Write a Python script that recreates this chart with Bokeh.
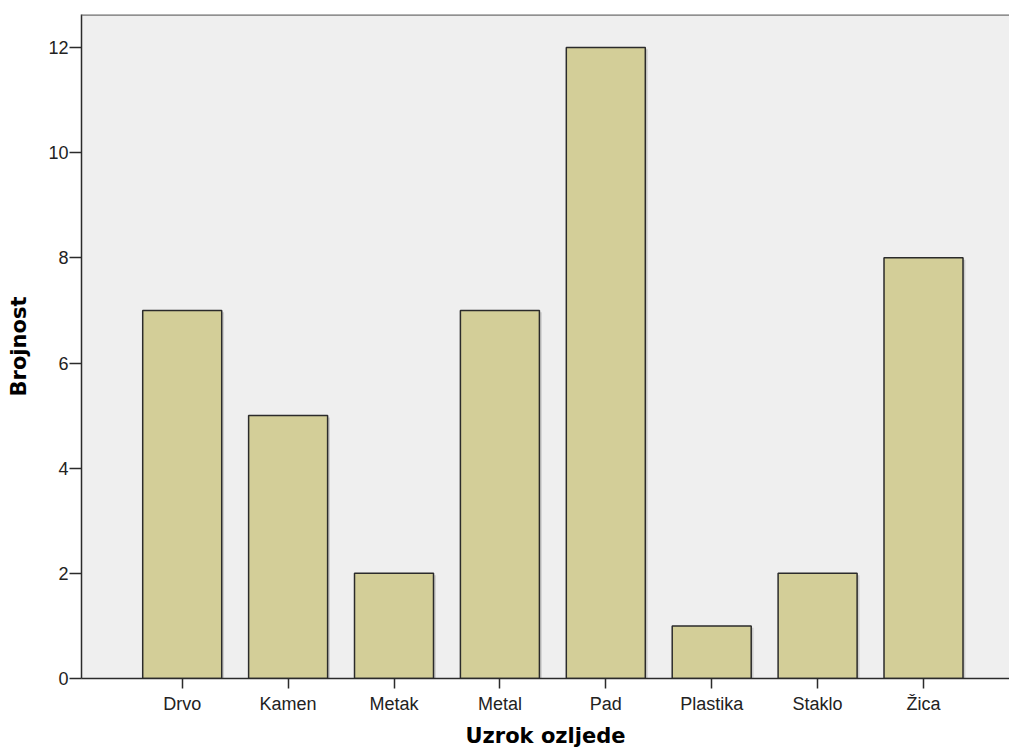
from bokeh.plotting import figure
from bokeh.models import Range1d, FixedTicker, Span, ColumnDataSource
from bokeh.embed import file_html
from bokeh.resources import INLINE

categories = ["Drvo", "Kamen", "Metak", "Metal", "Pad", "Plastika", "Staklo", "Žica"]
counts = [7, 5, 2, 7, 12, 1, 2, 8]
y_ticks = [0, 2, 4, 6, 8, 10, 12]

positions = list(range(1, len(categories) + 1))
src = ColumnDataSource(dict(x=positions, top=counts,
                            xs=[p_ + 0.022 for p_ in positions],
                            tops=[c - 0.035 for c in counts]))

y_end = 12.628
p = figure(width=1009, height=751, output_backend="svg", toolbar_location=None,
           x_range=Range1d(0.049, 8.812), y_range=Range1d(0, y_end),
           min_border_left=81, min_border_top=14, min_border_right=0, min_border_bottom=73)

p.background_fill_color = "#EFEFEF"
p.border_fill_color = "white"
p.outline_line_color = None
p.grid.visible = False

# subtle shadow
p.vbar(x="xs", top="tops", width=0.746, bottom=0, source=src,
       fill_color="#C4C4C4", line_color=None, fill_alpha=0.8)
p.vbar(x="x", top="top", width=0.746, bottom=0, source=src,
       fill_color="#D3CE98", line_color="#2B2B2B", line_width=1.5)

p.add_layout(Span(location=y_end, dimension="width", line_color="#707070", line_width=2.5))

p.xaxis.ticker = FixedTicker(ticks=positions)
p.xaxis.major_label_overrides = {pos: c for pos, c in zip(positions, categories)}
p.yaxis.ticker = FixedTicker(ticks=y_ticks)

for ax in (p.xaxis[0], p.yaxis[0]):
    ax.axis_line_color = "#2B2B2B"
    ax.axis_line_width = 1.5
    ax.major_tick_line_color = "#2B2B2B"
    ax.major_tick_line_width = 1.5
    ax.minor_tick_line_color = None
    ax.major_tick_in = 0
    ax.major_label_text_font = "Liberation Sans"
    ax.major_label_text_font_size = "18px"
    ax.major_label_text_color = "#222222"
    ax.axis_label_text_font = "DejaVu Sans"
    ax.axis_label_text_font_style = "bold"
    ax.axis_label_text_font_size = "21px"
    ax.axis_label_text_color = "#000000"

p.xaxis.major_tick_out = 10
p.xaxis.major_label_standoff = 5
p.xaxis.axis_label = "Uzrok ozljede"
p.xaxis.axis_label_standoff = 7

p.yaxis.major_tick_out = 12
p.yaxis.major_label_standoff = 1
p.yaxis.axis_label = "Brojnost"
p.yaxis.axis_label_standoff = 14

open("out.html", "w").write(file_html(p, INLINE))
